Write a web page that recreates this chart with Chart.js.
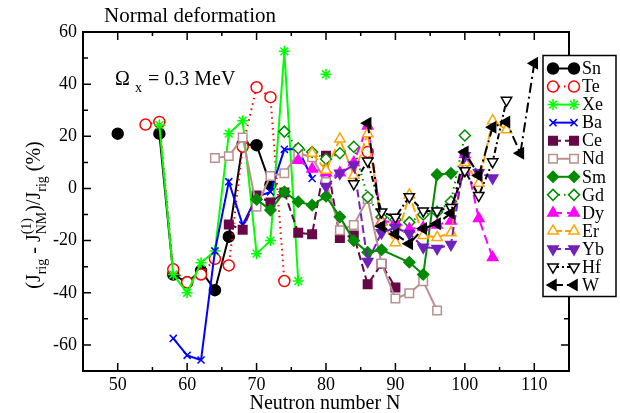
<!DOCTYPE html>
<html>
<head>
<meta charset="utf-8">
<script src="https://cdn.jsdelivr.net/npm/chart.js@4.4.0/dist/chart.umd.min.js"></script>
<style>html,body{margin:0;padding:0;background:#fff}</style>
</head>
<body>
<canvas id="chart" width="620" height="413" style="width:620px;height:413px"></canvas>
<script>
// neutron numbers and values per isotope chain (null = gap in line)
var snN = [50, 52, 56, 58, 60, 62, 64, 66, 68, 70, 72];
var snY = [21, null, 21, -33, -36, -31.5, -39, -18.5, 17, 16.6, 1.5];
var teN = [54, 56, 58, 60, 62, 64, 66, 68, 70, 72, 74, 80, 86];
var teY = [24.5, 25.5, -31, -36, -33, -27, -29.5, 16, 38.8, 35, -35.5, null, 14];
var xeN = [56, 58, 60, 62, 64, 66, 68, 70, 72, 74, 76, 78, 80];
var xeY = [24.3, -33, -40, -28.5, -24, 21, 26, -25, -20, 52.6, -35.5, null, 43.8];
var baN = [58, 60, 62, 64, 66, 68, 70, 72, 74, 76, 78];
var baY = [-57.5, -64, -65.8, -24, 2.6, -14, -3.2, -1.3, 15, 15, 3.8];
var ceN = [66, 68, 70, 72, 74, 76, 78, 80, 82, 84, 86, 88, 90];
var ceY = [-13.8, -15.8, -2.7, -5.4, -1.5, -17, -17.6, 12.5, -19, -18, -36.7, -29, -38];
var ndN = [64, 66, 68, 70, 72, 74, 76, 78, 80, 82, 84, 86, 88, 90, 92, 94, 96];
var ndY = [11.7, 12.4, 19.5, -7, 4.8, 5.8, 13.5, 12, 2.5, -16, -14, -4, -28.8, -42.2, -40.2, -35.6, -46.8];
var smN = [70, 72, 74, 76, 78, 80, 82, 84, 86, 88, 92, 94, 96, 98];
var smY = [-4.2, -8.3, -1.3, -5.1, -6.4, -3, -10.9, -20, -24.5, -23.5, -28.3, -33, 5.3, 5.8];
var gdN = [74, 76, 78, 80, 82, 84, 86, 88, 90, 92, 94, 96, 98, 100];
var gdY = [21.8, 15.4, 14, 11.3, 13.5, 16, -3.3, -11, -12, -13, -10, -9, -5, 20.3];
var dyN = [76, 78, 80, 82, 84, 86, 88, 90, 92, 94, 96, 98, 100, 102, 104];
var dyY = [10.8, 7.5, 6, 6, 10, 24, -12.5, -13, -15.5, -15, -14, -12.5, 13, -11.5, -26.5];
var erN = [78, 80, 82, 84, 86, 88, 90, 92, 94, 96, 98, 100, 102, 104, 106];
var erY = [13.5, 7, 19, 5, 21, -13, -20.8, -2.5, -18, -18.8, -17, 10, 2, 26, 22.5];
var ybN = [80, 82, 84, 86, 88, 90, 92, 94, 96, 98, 100, 102, 104];
var ybY = [0.8, 5.8, 9, -28, -17, -15, -17.3, -22.5, -23, -21.5, 12.5, 6, 4];
var hfN = [84, 86, 88, 90, 92, 94, 96, 98, 100, 102, 104, 106];
var hfY = [1.8, 10.5, -9, -11, -3.2, -8.6, -8.6, -7.3, 6.8, -2.7, 10.2, 33.8];
var wN = [86, 88, 90, 92, 94, 96, 98, 100, 102, 104, 106, 108, 110];
var wY = [25, -14.5, -17.5, -21.2, -15.4, -13.5, -9.5, 14, 5, 23.5, 25.5, 13.5, 48];

var xTicks = [50, 60, 70, 80, 90, 100, 110];
var yTicks = [-60, -40, -20, 0, 20, 40, 60];

function pts(ns, ys) {
    return ns.map(function(n, i) { return {x: n, y: ys[i]}; });
}

var series = [
    {label: 'Sn', n: snN, y: snY, color: '#000000', style: 'circle', rot: 0, open: false, dash: [], r: 5.5},
    {label: 'Te', n: teN, y: teY, color: '#ff0000', style: 'circle', rot: 0, open: true, dash: [1.5, 4], r: 5.5},
    {label: 'Xe', n: xeN, y: xeY, color: '#00ff00', style: 'star', rot: 0, open: false, dash: [], r: 5.5},
    {label: 'Ba', n: baN, y: baY, color: '#0000ff', style: 'crossRot', rot: 0, open: false, dash: [], r: 5},
    {label: 'Ce', n: ceN, y: ceY, color: '#670748', style: 'rect', rot: 0, open: false, dash: [8, 4], r: 6},
    {label: 'Nd', n: ndN, y: ndY, color: '#bc8f8f', style: 'rect', rot: 0, open: true, dash: [], r: 6},
    {label: 'Sm', n: smN, y: smY, color: '#008b00', style: 'rectRot', rot: 0, open: false, dash: [], r: 5.5},
    {label: 'Gd', n: gdN, y: gdY, color: '#008b00', style: 'rectRot', rot: 0, open: true, dash: [1.5, 4], r: 5.5},
    {label: 'Dy', n: dyN, y: dyY, color: '#ff00ff', style: 'triangle', rot: 0, open: false, dash: [9, 5], r: 6},
    {label: 'Er', n: erN, y: erY, color: '#ffa500', style: 'triangle', rot: 0, open: true, dash: [9, 3], r: 6},
    {label: 'Yb', n: ybN, y: ybY, color: '#7221bc', style: 'triangle', rot: 180, open: false, dash: [8, 4], r: 6},
    {label: 'Hf', n: hfN, y: hfY, color: '#000000', style: 'triangle', rot: 180, open: true, dash: [6, 3, 2, 3], r: 6},
    {label: 'W', n: wN, y: wY, color: '#000000', style: 'triangle', rot: 270, open: false, dash: [10, 4, 2, 4], r: 6}
];

var datasets = series.map(function(s, i) {
    return {
        label: s.label,
        data: pts(s.n, s.y),
        borderColor: s.color,
        backgroundColor: s.open ? '#ffffff' : s.color,
        pointBorderColor: s.color,
        pointBackgroundColor: s.open ? '#ffffff' : s.color,
        borderWidth: 2,
        borderDash: s.dash,
        pointStyle: s.style,
        pointRotation: s.rot,
        pointRadius: s.r,
        pointBorderWidth: 1.5,
        tension: 0,
        spanGaps: false,
        order: series.length - i
    };
});

var SERIF = "'Liberation Serif', 'DejaVu Serif', serif";

function richText(ctx, groups, x0, y0) {
    // groups: list of [[text, kind], ...]; kind n=normal, b=sub, p=sup
    var fonts = {n: '20px ' + SERIF, b: '14px ' + SERIF, p: '14px ' + SERIF};
    var shift = {n: 0, b: 6, p: -9};
    var widths = groups.map(function(g) {
        return Math.max.apply(null, g.map(function(p) {
            ctx.font = fonts[p[1]];
            return ctx.measureText(p[0]).width;
        }));
    });
    var total = widths.reduce(function(a, b) { return a + b; }, 0);
    var x = x0 - total / 2;
    groups.forEach(function(g, i) {
        g.forEach(function(p) {
            ctx.font = fonts[p[1]];
            ctx.fillText(p[0], x, y0 + shift[p[1]]);
        });
        x += widths[i];
    });
}

var decor = {
    id: 'decor',
    afterDatasetsDraw: function(chart) {
        var ctx = chart.ctx, a = chart.chartArea;
        var xs = chart.scales.x, ys = chart.scales.y;
        ctx.save();
        ctx.strokeStyle = '#000';
        ctx.lineWidth = 1.5;
        ctx.beginPath();
        for (var v = 45; v <= 115; v += 5) {
            var px = xs.getPixelForValue(v);
            var len = v % 10 === 0 ? 8 : 4;
            ctx.moveTo(px, a.bottom); ctx.lineTo(px, a.bottom - len);
            ctx.moveTo(px, a.top); ctx.lineTo(px, a.top + len);
        }
        for (var w = -70; w <= 60; w += 10) {
            var py = ys.getPixelForValue(w);
            var l2 = w % 20 === 0 ? 8 : 5;
            ctx.moveTo(a.left, py); ctx.lineTo(a.left + l2, py);
            ctx.moveTo(a.right, py); ctx.lineTo(a.right - l2, py);
        }
        ctx.stroke();
        ctx.lineWidth = 2;
        ctx.strokeRect(a.left, a.top, a.right - a.left, a.bottom - a.top);
        ctx.restore();
    },
    afterDraw: function(chart) {
        var ctx = chart.ctx;
        ctx.save();
        ctx.fillStyle = '#000';
        ctx.textBaseline = 'alphabetic';
        ctx.textAlign = 'left';
        ctx.font = '21px ' + SERIF;
        ctx.fillText('Normal deformation', 104, 22);

        // annotation
        ctx.font = '20px ' + SERIF;
        ctx.fillText('\u03A9', 115, 85);
        ctx.font = '14px ' + SERIF;
        ctx.fillText('x', 135, 92);
        ctx.font = '20px ' + SERIF;
        ctx.fillText('= 0.3 MeV', 148, 85);

        // x title
        ctx.textAlign = 'center';
        ctx.textBaseline = 'middle';
        ctx.fillText('Neutron number N', 325, 404);

        // y title
        ctx.save();
        ctx.translate(40, 215);
        ctx.rotate(-Math.PI / 2);
        ctx.textAlign = 'left';
        ctx.textBaseline = 'alphabetic';
        richText(ctx, [
            [['(J', 'n']], [['rig', 'b']], [[' - J', 'n']],
            [['(1)', 'p'], ['NM', 'b']], [[')/J', 'n']], [['rig', 'b']], [[' (%)', 'n']]
        ], 0, 0);
        ctx.restore();

        // legend
        var bx = 543, by = 55.5, bw = 73, bh = 241;
        ctx.fillStyle = '#fff';
        ctx.fillRect(bx, by, bw, bh);
        ctx.strokeStyle = '#000';
        ctx.lineWidth = 1.5;
        ctx.strokeRect(bx, by, bw, bh);
        ctx.textAlign = 'left';
        ctx.textBaseline = 'middle';
        series.forEach(function(s, i) {
            var yy = 68.5 + i * 18.05;
            var x1 = 553, x2 = 574;
            ctx.save();
            ctx.strokeStyle = s.color;
            ctx.lineWidth = 2;
            ctx.setLineDash(s.dash);
            ctx.beginPath();
            ctx.moveTo(x1, yy); ctx.lineTo(x2, yy);
            ctx.stroke();
            ctx.setLineDash([]);
            ctx.fillStyle = s.open ? '#fff' : s.color;
            ctx.lineWidth = 1.5;
            [x1, x2].forEach(function(xx) {
                Chart.helpers.drawPoint(ctx, {pointStyle: s.style, rotation: s.rot, radius: s.r, borderWidth: 1.5}, xx, yy);
            });
            ctx.restore();
            ctx.fillStyle = '#000';
            ctx.font = '18px ' + SERIF;
            ctx.fillText(s.label, 582, yy + 1);
        });
        ctx.restore();
    }
};

new Chart(document.getElementById('chart'), {
    type: 'line',
    data: {datasets: datasets},
    options: {
        responsive: false,
        animation: false,
        devicePixelRatio: 1,
        layout: {padding: {top: 32, right: 51, left: 0, bottom: 0}},
        plugins: {legend: {display: false}, tooltip: {enabled: false}},
        scales: {
            x: {
                type: 'linear', min: 45, max: 115,
                grid: {display: false, drawTicks: false},
                border: {display: false},
                ticks: {
                    stepSize: 5, autoSkip: false, padding: 3, color: '#000',
                    maxRotation: 0,
                    font: {family: SERIF, size: 18},
                    callback: function(v) { return xTicks.indexOf(v) >= 0 ? String(v) : ''; }
                },
                afterFit: function(s) { s.height = 42; }
            },
            y: {
                min: -70, max: 60,
                grid: {display: false, drawTicks: false},
                border: {display: false},
                ticks: {
                    stepSize: 20, autoSkip: false, padding: 6, color: '#000',
                    font: {family: SERIF, size: 18},
                    callback: function(v) { return yTicks.indexOf(v) >= 0 ? String(v) : ''; }
                },
                afterFit: function(s) { s.width = 83; }
            }
        }
    },
    plugins: [decor]
});
</script>
</body>
</html>
